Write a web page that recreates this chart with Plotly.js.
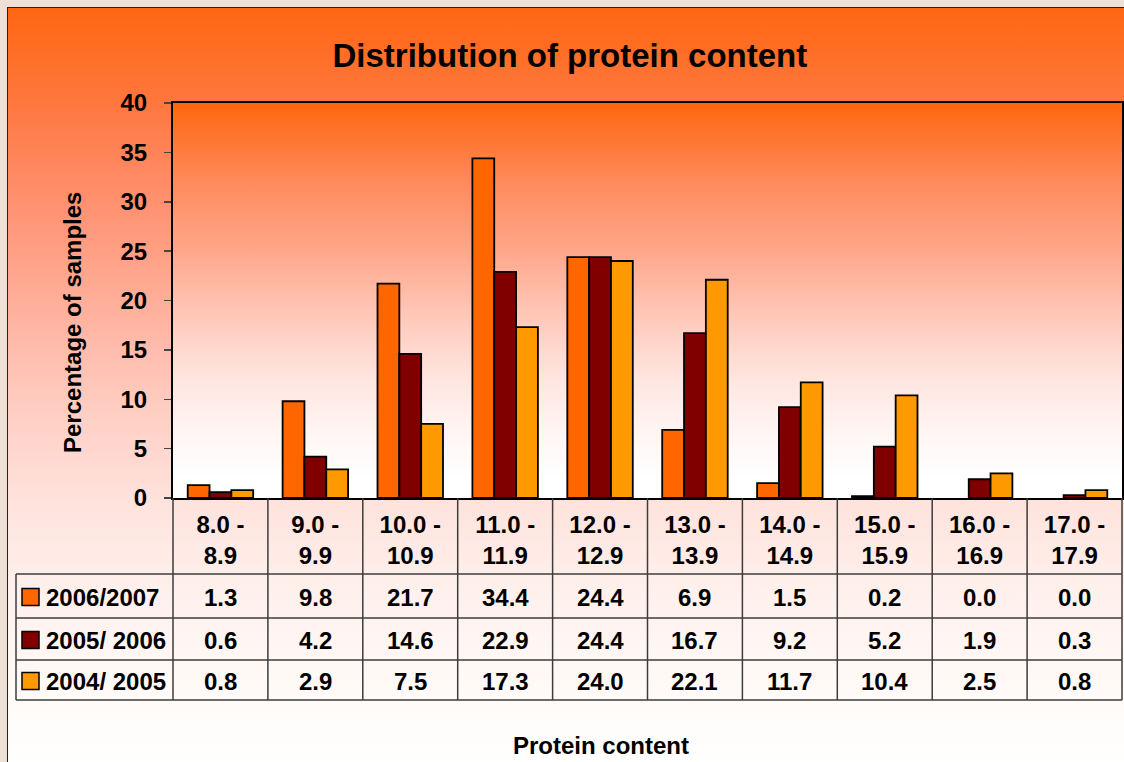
<!DOCTYPE html>
<html><head><meta charset="utf-8">
<script src="https://cdn.plot.ly/plotly-3.0.1.min.js"></script>
<style>
html,body{margin:0;padding:0;width:1124px;height:762px;overflow:hidden;background:#eee0d4;}
#frame{position:absolute;left:7px;top:7px;width:1130px;height:770px;border-left:1.5px solid #222;border-top:1.5px solid #222;
background:linear-gradient(to bottom,#ff6612 0px,#ff7840 100px,#ff9272 200px,#ffb09c 300px,#ffcdc2 400px,#ffe2dc 490px,#fff0ec 580px,#fffaf7 680px,#ffffff 760px);}
#plotbg{position:absolute;left:173px;top:103px;width:949px;height:395px;
background:linear-gradient(to bottom,#ff660e 0%,#ff8a5c 20%,#ffa88c 38%,#ffcabc 55%,#ffe6e0 70%,#fff6f4 84%,#ffffff 95%);}
#chart{position:absolute;left:0;top:0;width:1124px;height:762px;}
</style></head>
<body>
<div id="frame"></div>
<div id="plotbg"></div>
<div id="chart"></div>
<script>
// ---- data ----
var catLow  = ['8.0','9.0','10.0','11.0','12.0','13.0','14.0','15.0','16.0','17.0'];
var catHigh = ['8.9','9.9','10.9','11.9','12.9','13.9','14.9','15.9','16.9','17.9'];
var seriesNames = ['2006/2007','2005/ 2006','2004/ 2005'];
var s2006 = [1.3, 9.8, 21.7, 34.4, 24.4, 6.9, 1.5, 0.2, 0.0, 0.0];
var s2005 = [0.6, 4.2, 14.6, 22.9, 24.4, 16.7, 9.2, 5.2, 1.9, 0.3];
var s2004 = [0.8, 2.9, 7.5, 17.3, 24.0, 22.1, 11.7, 10.4, 2.5, 0.8];
var yTicks = [0,5,10,15,20,25,30,35,40];

var colors = ['#ff6600','#800000','#ff9900'];
var seriesData = [s2006, s2005, s2004];
var categories = catLow.map(function(l,i){return l+' -<br>'+catHigh[i];});

var FONT = 'Arial, "Liberation Sans", sans-serif';
var FS = 24;

var traces = seriesData.map(function(vals,k){
  return {type:'bar', name:seriesNames[k], x:categories, y:vals,
    marker:{color:colors[k], line:{color:'#000', width:vals.map(function(v){return v>0?1.8:0;})}}, hoverinfo:'x+y'};
});

// ---- table geometry (pixels -> paper) ----
var plotTop=103, plotBottom=498, plotLeft=173, plotW=949;
var plotH = plotBottom-plotTop;
function py(p){return (plotBottom-p)/plotH;}
function px(p){return (p-plotLeft)/plotW;}
var rowLines=[574,618,660,700];
var lineStyle={color:'#3c3c3c', width:1.5};
var shapes=[];
var n=categories.length;
for (var i=0;i<=n;i++){
  shapes.push({type:'line', xref:'paper', yref:'paper', x0:i/n, x1:i/n, y0:0, y1:py(700), line:lineStyle});
}
rowLines.forEach(function(r){
  shapes.push({type:'line', xref:'paper', yref:'paper', x0:px(16), x1:1, y0:py(r), y1:py(r), line:lineStyle});
});
shapes.push({type:'line', xref:'paper', yref:'paper', x0:px(16), x1:px(16), y0:py(574), y1:py(700), line:lineStyle});

var annotations=[];
var rowCenters=[597,640,681];
seriesData.forEach(function(vals,k){
  var yc=py(rowCenters[k]);
  shapes.push({type:'rect', xref:'paper', yref:'paper', x0:px(22), x1:px(39), y0:yc-8.5/plotH, y1:yc+8.5/plotH,
    fillcolor:colors[k], line:{color:'#000', width:1.5}});
  annotations.push({xref:'paper', yref:'paper', x:px(44), y:yc, xanchor:'left', yanchor:'middle', showarrow:false,
    text:seriesNames[k], font:{family:FONT, size:FS, color:'#000', weight:'bold'}});
  vals.forEach(function(v,i){
    annotations.push({xref:'x', yref:'paper', x:categories[i], y:yc, xanchor:'center', yanchor:'middle', showarrow:false,
      text:v.toFixed(1), font:{family:FONT, size:FS, color:'#000', weight:'bold'}});
  });
});
annotations.push({xref:'paper', yref:'paper', x:px(601), y:py(745), xanchor:'center', yanchor:'middle', showarrow:false,
  text:'Protein content', font:{family:FONT, size:FS, color:'#000', weight:'bold'}});
annotations.push({xref:'paper', yref:'paper', x:px(72), y:py(323), xanchor:'center', yanchor:'middle', showarrow:false,
  textangle:-90, text:'Percentage of samples', font:{family:FONT, size:FS, color:'#000', weight:'bold'}});

var layout={
  width:1124, height:762,
  margin:{l:173, r:2, t:103, b:264},
  paper_bgcolor:'rgba(0,0,0,0)', plot_bgcolor:'rgba(0,0,0,0)',
  showlegend:false,
  barmode:'group', bargap:0.31, bargroupgap:0,
  title:{text:'Distribution of protein content', xref:'container', yref:'container', x:0.507, y:(762-55)/762,
    xanchor:'center', yanchor:'middle', font:{family:FONT, size:33, color:'#000', weight:'bold'}},
  xaxis:{type:'category', showline:true, linecolor:'#000', linewidth:2, mirror:true, ticks:'', showgrid:false,
    tickfont:{family:FONT, size:FS, color:'#000', weight:'bold'}, ticklabelstandoff:4, fixedrange:true},
  yaxis:{range:[0,40], tickvals:yTicks, showline:true, linecolor:'#000', linewidth:2, mirror:true,
    ticks:'outside', ticklen:7, tickwidth:1.5, tickcolor:'#444', showgrid:false, zeroline:false,
    tickfont:{family:FONT, size:FS, color:'#000', weight:'bold'}, ticklabelstandoff:12, fixedrange:true},
  shapes:shapes, annotations:annotations
};
Plotly.newPlot('chart', traces, layout, {displayModeBar:false, staticPlot:true});
</script>
</body></html>
